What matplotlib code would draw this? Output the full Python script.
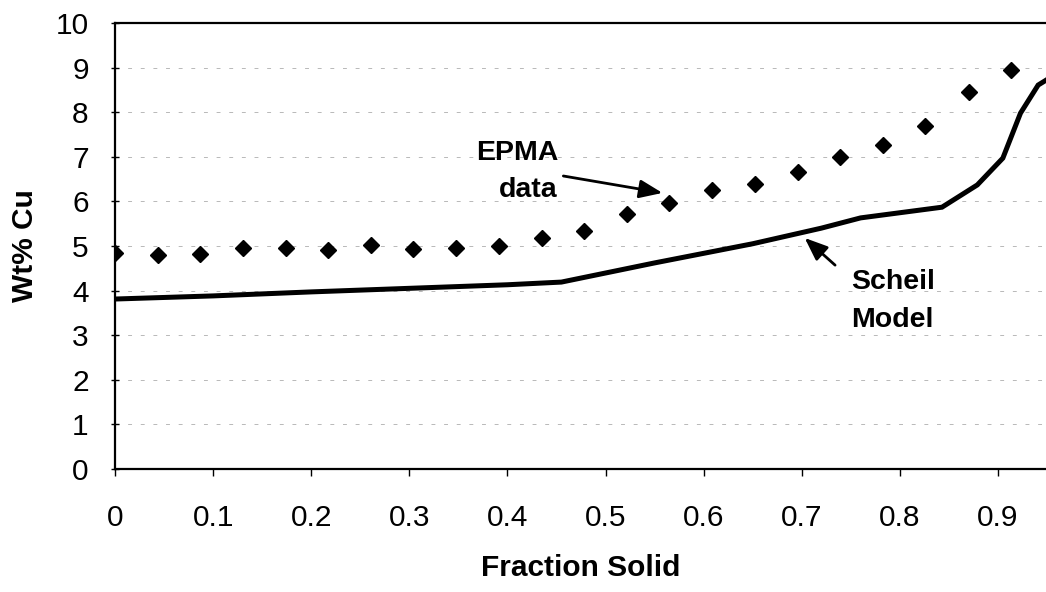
import matplotlib
matplotlib.use("Agg")
import matplotlib.pyplot as plt

epma_fs = [0.0, 0.0435, 0.087, 0.130, 0.174, 0.217, 0.261, 0.304, 0.348, 0.391, 0.435,
           0.478, 0.522, 0.565, 0.609, 0.652, 0.696, 0.739, 0.783, 0.826, 0.870, 0.913]
epma_cu = [4.85, 4.80, 4.82, 4.95, 4.95, 4.92, 5.02, 4.93, 4.95, 5.0, 5.18,
           5.33, 5.72, 5.96, 6.25, 6.40, 6.65, 7.0, 7.27, 7.70, 8.45, 8.95]

# Scheil model curve
scheil_fs = [0.0, 0.1, 0.2, 0.3, 0.4, 0.455, 0.55, 0.65, 0.72, 0.76, 0.843, 0.879, 0.905, 0.923, 0.941, 0.955]
scheil_cu = [3.81, 3.88, 3.97, 4.05, 4.13, 4.19, 4.62, 5.05, 5.40, 5.63, 5.87, 6.37, 6.97, 7.98, 8.61, 8.80]

xticks = [0, 0.1, 0.2, 0.3, 0.4, 0.5, 0.6, 0.7, 0.8, 0.9]
xticklabels = ["0", "0.1", "0.2", "0.3", "0.4", "0.5", "0.6", "0.7", "0.8", "0.9"]
yticks = list(range(0, 11))

plt.rcParams['font.family'] = ['Liberation Sans', 'DejaVu Sans']

fig = plt.figure(figsize=(10.46, 5.92), dpi=100)
ax = fig.add_axes([0.110, 0.208, 0.890, 0.753])

ax.plot(scheil_fs, scheil_cu, color='black', lw=3.6, solid_joinstyle='miter', zorder=3)
ax.plot(epma_fs, epma_cu, linestyle='none', marker='D', markersize=8.5, color='black', zorder=4)

ax.set_xlim(0, 0.949)
ax.set_ylim(0, 10)
ax.set_xticks(xticks)
ax.set_xticklabels(xticklabels)
ax.set_yticks(yticks)

ax.yaxis.grid(True, color='0.72', lw=0.7, linestyle=(0, (4, 9)))
ax.set_axisbelow(True)

for side in ['left', 'bottom', 'top']:
    ax.spines[side].set_linewidth(1.6)
ax.spines['right'].set_visible(False)

ax.tick_params(axis='x', direction='out', length=5, width=1, labelsize=21.5, pad=20)
ax.tick_params(axis='y', direction='inout', length=6, width=1, labelsize=21.5, pad=16)

ax.set_xlabel('Fraction Solid', fontsize=21.5, fontweight='bold', labelpad=16)
ax.set_ylabel('Wt% Cu', fontsize=21.5, fontweight='bold', labelpad=12)

# annotations
arrow = dict(arrowstyle='-|>,head_length=0.7,head_width=0.28', color='black', lw=2,
             mutation_scale=20, shrinkA=0, shrinkB=0)
ax.annotate('', xy=(0.558, 6.19), xytext=(0.457, 6.57), arrowprops=arrow)
ax.text(0.41, 7.09, 'EPMA', fontsize=20.5, fontweight='bold', ha='center', va='center')
ax.text(0.421, 6.26, 'data', fontsize=20.5, fontweight='bold', ha='center', va='center')

ax.annotate('', xy=(0.703, 5.18), xytext=(0.734, 4.57), arrowprops=arrow)
ax.text(0.793, 4.19, 'Scheil', fontsize=20.5, fontweight='bold', ha='center', va='center')
ax.text(0.792, 3.34, 'Model', fontsize=20.5, fontweight='bold', ha='center', va='center')

fig.savefig('out.png', dpi=100)
